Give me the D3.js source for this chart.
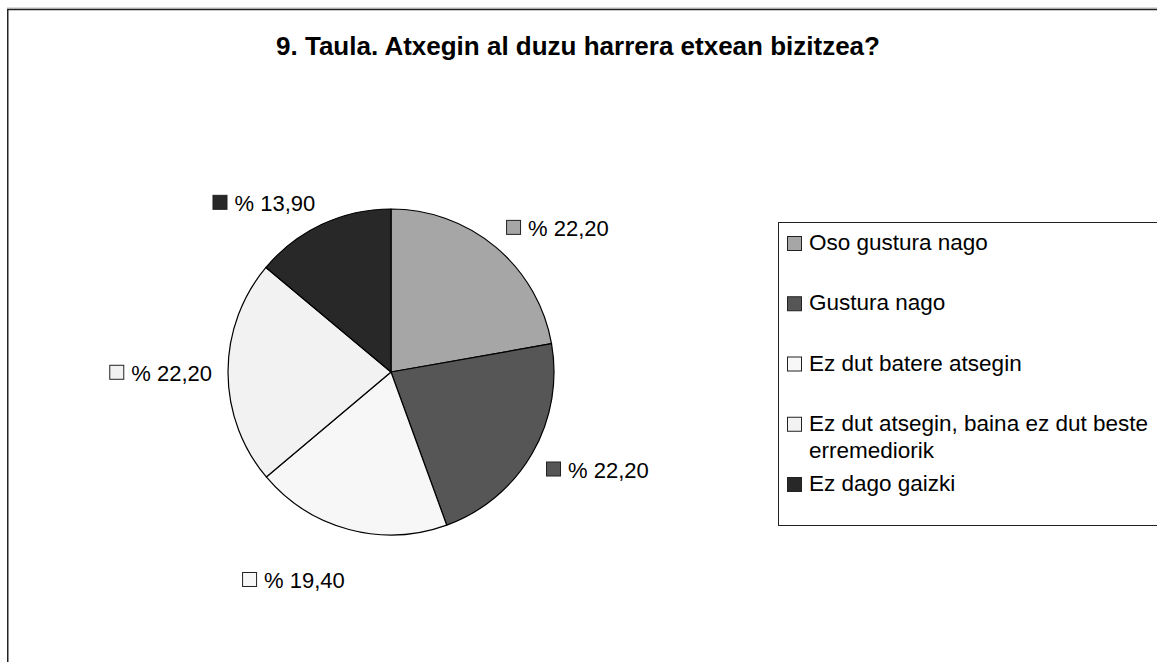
<!DOCTYPE html>
<html>
<head>
<meta charset="utf-8">
<script src="https://cdn.jsdelivr.net/npm/d3@7"></script>
<style>
  body { margin: 0; background: #fff; }
  svg { display: block; font-family: "Liberation Sans", Arial, sans-serif; }
</style>
</head>
<body>
<div id="chart"></div>
<script>
// data
var categories = ["Oso gustura nago", "Gustura nago", "Ez dut batere atsegin",
    "Ez dut atsegin, baina ez dut beste erremediorik", "Ez dago gaizki"];
var values = [22.2, 22.2, 19.4, 22.2, 13.9];
var valueLabels = ["% 22,20", "% 22,20", "% 19,40", "% 22,20", "% 13,90"];
var colors = ["#a6a6a6", "#565656", "#f7f7f7", "#f2f2f2", "#282828"];
var title = "9. Taula. Atxegin al duzu harrera etxean bizitzea?";

var width = 1157, height = 662;
var cx = 391, cy = 372, radius = 163;

var svg = d3.select("#chart")
    .append("svg")
    .attr("width", width)
    .attr("height", height);

svg.append("rect").attr("width", width).attr("height", height).attr("fill", "#fff");

// outer frame (runs off the right and bottom)
svg.append("line")
    .attr("x1", 7).attr("x2", width).attr("y1", 8).attr("y2", 8)
    .attr("stroke", "#bbb").attr("stroke-width", 1);
svg.append("rect")
    .attr("x", 7.75).attr("y", 9.5)
    .attr("width", width + 20).attr("height", height + 20)
    .attr("fill", "none").attr("stroke", "#222").attr("stroke-width", 1.5);

svg.append("text")
    .attr("x", 578).attr("y", 55)
    .attr("text-anchor", "middle")
    .style("font-size", "26px")
    .style("font-weight", "bold")
    .text(title);

////////// pie //////////
var data = categories.map(function(c, i) {
    return { name: c, value: values[i], label: valueLabels[i], color: colors[i] };
});

var pie = d3.pie()
    .sort(null)
    .value(function(d) { return d.value; });

var arc = d3.arc().innerRadius(0).outerRadius(radius);
var arcs = pie(data);

var plot = svg.append("g")
    .attr("transform", "translate(" + cx + "," + cy + ")");

plot.selectAll("path")
    .data(arcs)
    .enter()
    .append("path")
    .attr("d", arc)
    .attr("fill", function(d) { return d.data.color; })
    .attr("stroke", "#000")
    .attr("stroke-width", 1.2)
    .attr("stroke-linejoin", "round");

// data labels, placed outside the slice like Excel does
var labelR = 179, box = 15, gap = 7;
plot.selectAll("g.lbl")
    .data(arcs)
    .enter()
    .append("g")
    .attr("class", "lbl")
    .each(function(d) {
        var g = d3.select(this);
        var a = (d.startAngle + d.endAngle) / 2;
        var c = Math.cos(a);
        // labels near the bottom sit a bit further out
        var r = c < -0.9 ? labelR + 28 : labelR;
        var ax = Math.sin(a) * labelR, ay = -c * r;
        var t = g.append("text")
            .style("font-size", "22px")
            .text(d.data.label);
        var w = box + gap + t.node().getComputedTextLength();
        var x0 = Math.sin(a) >= 0 ? ax : ax - w;
        var y0;
        if (Math.abs(c) < 0.3) y0 = ay - box / 2;
        else if (c > 0) y0 = ay - box;
        else y0 = ay;
        g.append("rect")
            .attr("x", x0 + 0.5).attr("y", y0 + 0.5)
            .attr("width", box - 1).attr("height", box - 1)
            .attr("fill", d.data.color)
            .attr("stroke", "#222");
        t.attr("x", x0 + box + gap).attr("y", y0 + box + 1);
    });

////////// legend //////////
var legX = 778.5, legTop = 222.5, legBottom = 525.5;
svg.append("rect")
    .attr("x", legX).attr("y", legTop)
    .attr("width", width).attr("height", legBottom - legTop)
    .attr("fill", "#fff").attr("stroke", "#222").attr("stroke-width", 1);

var ly = d3.scalePoint()
    .domain(categories)
    .range([242, 483]);

var legend = svg.selectAll("g.leg")
    .data(data)
    .enter()
    .append("g")
    .attr("class", "leg");

legend.append("rect")
    .attr("x", 787.5)
    .attr("y", function(d) { return ly(d.name) - 5.5; })
    .attr("width", 14).attr("height", 14)
    .attr("fill", function(d) { return d.color; })
    .attr("stroke", "#222");

legend.each(function(d) {
    var t = d3.select(this).append("text")
        .attr("x", 809)
        .attr("y", ly(d.name) + 8)
        .style("font-size", "22.5px");
    var words = d.name.split(" "), line = [];
    var ts = t.append("tspan").attr("x", 809);
    words.forEach(function(wd) {
        line.push(wd);
        ts.text(line.join(" "));
        if (ts.node().getComputedTextLength() > 350 && line.length > 1) {
            line.pop();
            ts.text(line.join(" "));
            line = [wd];
            ts = t.append("tspan").attr("x", 809).attr("dy", 27).text(wd);
        }
    });
});
</script>
</body>
</html>
